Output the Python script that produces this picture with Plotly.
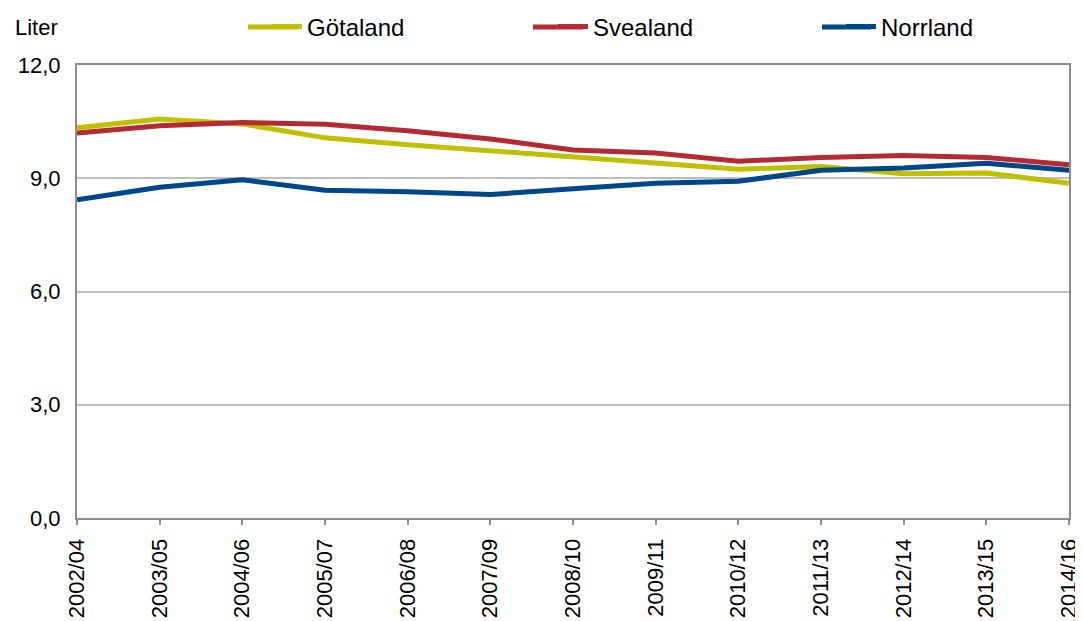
import plotly.graph_objects as go

# periods on the x axis
periods = ["2002/04", "2003/05", "2004/06", "2005/07", "2006/08", "2007/09",
           "2008/10", "2009/11", "2010/12", "2011/13", "2012/14", "2013/15",
           "2014/16"]

# litres per person
gotaland = [10.34, 10.57, 10.44, 10.07, 9.89, 9.73, 9.57, 9.40, 9.24, 9.31,
            9.12, 9.14, 8.87]
svealand = [10.20, 10.39, 10.48, 10.43, 10.26, 10.04, 9.75, 9.67, 9.45, 9.55,
            9.60, 9.55, 9.36]
norrland = [8.43, 8.76, 8.96, 8.68, 8.64, 8.57, 8.72, 8.87, 8.92, 9.21,
            9.27, 9.40, 9.21]

y_ticks = [0, 3, 6, 9, 12]
y_ticktext = ["0,0", "3,0", "6,0", "9,0", "12,0"]

font = "Liberation Sans, Arial, sans-serif"
# page body adds 8px, so the figure is 8px smaller than the window
W, H = 1075, 613
L, R, T, B = 69, 14, 57, 103
PW, PH = W - L - R, H - T - B
LEG_Y = 19  # legend row centre, px from top of figure

fig = go.Figure()

# one legend per series so each can sit where it does in the original
# (name, values, colour, legend id, legend left px, long key line start px)
series = [
    ("Götaland", gotaland, "#C0BF00", "legend", 259, 240),
    ("Svealand", svealand, "#B52A32", "legend2", 545, 525),
    ("Norrland", norrland, "#00468A", "legend3", 833, 814),
]
legends = {}
shapes = []
for name, values, color, leg, left_px, key_px in series:
    fig.add_trace(
        go.Scatter(
            x=periods,
            y=values,
            mode="lines",
            name=name,
            legend=leg,
            line=dict(color=color, width=5),
        )
    )
    legends[leg] = dict(
        xref="container",
        yref="container",
        x=left_px / W,
        xanchor="left",
        y=1 - LEG_Y / H,
        yanchor="middle",
        font=dict(size=24),
        bgcolor="rgba(0,0,0,0)",
    )
    # stretch the legend key to the longer Excel-style line
    shapes.append(
        dict(
            type="line",
            xref="paper",
            yref="paper",
            x0=(key_px - L) / PW,
            x1=(left_px + 30 - L) / PW,
            y0=(H - B - LEG_Y) / PH,
            y1=(H - B - LEG_Y) / PH,
            line=dict(color=color, width=5),
        )
    )

fig.update_layout(
    width=W,
    height=H,
    margin=dict(l=L, r=R, t=T, b=B, autoexpand=False),
    paper_bgcolor="white",
    plot_bgcolor="white",
    font=dict(family=font, size=22, color="black"),
    showlegend=True,
    shapes=shapes,
    annotations=[
        dict(
            text="Liter",
            xref="paper",
            yref="paper",
            x=(5 - L) / PW,
            y=(H - B - LEG_Y) / PH,
            showarrow=False,
            xanchor="left",
            yanchor="middle",
            font=dict(size=22),
        )
    ],
    **legends,
)

fig.update_xaxes(
    type="category",
    range=[0, 12],
    tickangle=-90,
    tickfont=dict(size=22),
    ticks="outside",
    ticklen=5,
    tickwidth=2,
    tickcolor="#8C8C8C",
    ticklabelstandoff=5,
    showline=True,
    linecolor="#8C8C8C",
    linewidth=2,
    mirror=True,
    showgrid=False,
    zeroline=False,
)

fig.update_yaxes(
    range=[0, 12],
    tickvals=y_ticks,
    ticktext=y_ticktext,
    tickfont=dict(size=22),
    ticks="",
    ticklabelstandoff=10,
    showline=True,
    linecolor="#8C8C8C",
    linewidth=2,
    mirror=True,
    showgrid=True,
    gridcolor="#BEBEBE",
    gridwidth=1.5,
    zeroline=False,
)

fig.write_html("out.html")
